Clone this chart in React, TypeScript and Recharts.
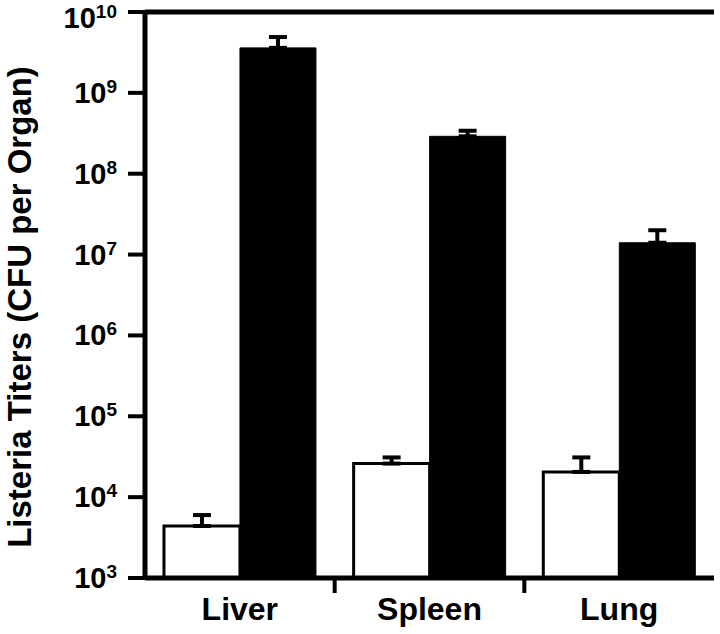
import React from "react";
import {
  BarChart,
  Bar,
  XAxis,
  YAxis,
  ErrorBar,
  ReferenceLine,
} from "recharts";

const organs = ["Liver", "Spleen", "Lung"];
const openTiters = [4.4e3, 2.6e4, 2.05e4];
const openErrors = [1.6e3, 0.5e4, 1.05e4];
const filledTiters = [3.6e9, 2.9e8, 1.4e7];
const filledErrors = [1.3e9, 0.5e8, 0.6e7];
const yTicks = [1e3, 1e4, 1e5, 1e6, 1e7, 1e8, 1e9, 1e10];

const data = organs.map((organ, i) => ({
  organ,
  open: openTiters[i],
  openErr: [0, openErrors[i]],
  filled: filledTiters[i],
  filledErr: [0, filledErrors[i]],
}));

const FONT = "'Liberation Sans', Arial, Helvetica, sans-serif";

const YTick = (props: any) => {
  const { x, y, payload } = props;
  const exp = Math.round(Math.log10(payload.value));
  // keep the top label inside the picture
  const base = Math.max(y + 10, 28);
  return (
    <text
      x={x}
      y={base}
      textAnchor="end"
      fontFamily={FONT}
      fontWeight="bold"
      fontSize={29}
      fill="#000"
    >
      10
      <tspan dy={-10} fontSize={19}>
        {exp}
      </tspan>
    </text>
  );
};

const XTick = (props: any) => {
  const { x, y, payload, index } = props;
  const half = payload && payload.offset ? payload.offset : 0;
  return (
    <g>
      {index > 0 && half > 0 && (
        <line
          x1={x - half}
          x2={x - half}
          y1={y}
          y2={y + 15}
          stroke="#000"
          strokeWidth={4}
        />
      )}
      <text
        x={x}
        y={y}
        dy={42}
        textAnchor="middle"
        fontFamily={FONT}
        fontWeight="bold"
        fontSize={32}
        fill="#000"
      >
        {payload.value}
      </text>
    </g>
  );
};

const YLabel = (props: any) => {
  const { viewBox } = props;
  const cx = viewBox.x + 31;
  const cy = viewBox.y + viewBox.height / 2 + 12;
  return (
    <text
      x={cx}
      y={cy}
      transform={`rotate(-90, ${cx}, ${cy})`}
      textAnchor="middle"
      fontFamily={FONT}
      fontWeight="bold"
      fontSize={33}
      fill="#000"
    >
      Listeria Titers (CFU per Organ)
    </text>
  );
};

export default function App() {
  return (
    <div style={{ position: "absolute", left: 0, top: 0, background: "#fff" }}>
      <BarChart
        width={720}
        height={634}
        data={data}
        margin={{ top: 12, right: 6, bottom: 6, left: 0 }}
        barGap={0}
        barCategoryGap="10%"
      >
        <XAxis
          xAxisId="cat"
          dataKey="organ"
          height={50}
          axisLine={{ stroke: "#000", strokeWidth: 5 }}
          tickLine={false}
          tickSize={0}
          tickMargin={0}
          tick={<XTick />}
        />
        <YAxis
          yAxisId="left"
          scale="log"
          domain={[1e3, 1e10]}
          ticks={yTicks}
          allowDataOverflow
          width={145}
          axisLine={{ stroke: "#000", strokeWidth: 5 }}
          tickLine={{ stroke: "#000", strokeWidth: 4 }}
          tickSize={17}
          tickMargin={11}
          tick={<YTick />}
          interval={0}
          label={<YLabel />}
        />
        <YAxis
          yAxisId="right"
          orientation="right"
          scale="log"
          domain={[1e3, 1e10]}
          allowDataOverflow
          width={0}
          axisLine={{ stroke: "#000", strokeWidth: 5 }}
          tickLine={false}
          tick={false}
        />
        <ReferenceLine
          yAxisId="left"
          xAxisId="cat"
          y={1e10}
          stroke="#000"
          strokeWidth={5}
          ifOverflow="visible"
        />
        <Bar
          xAxisId="cat"
          yAxisId="left"
          dataKey="open"
          fill="#fff"
          stroke="#000"
          strokeWidth={3}
          isAnimationActive={false}
        >
          <ErrorBar
            dataKey="openErr"
            direction="y"
            width={9}
            stroke="#000"
            strokeWidth={4}
          />
        </Bar>
        <Bar
          xAxisId="cat"
          yAxisId="left"
          dataKey="filled"
          fill="#000"
          stroke="#000"
          strokeWidth={1}
          isAnimationActive={false}
        >
          <ErrorBar
            dataKey="filledErr"
            direction="y"
            width={9}
            stroke="#000"
            strokeWidth={4}
          />
        </Bar>
      </BarChart>
    </div>
  );
}
